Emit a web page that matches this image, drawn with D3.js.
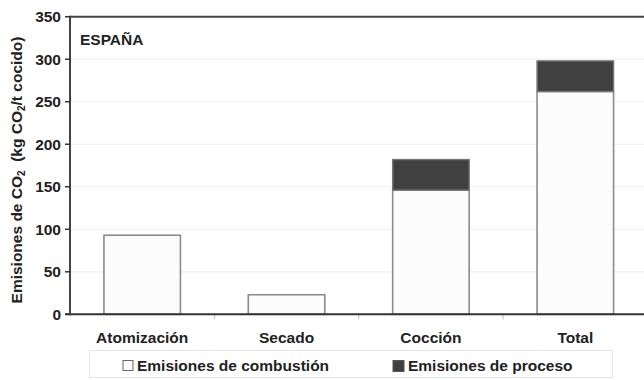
<!DOCTYPE html>
<html><head><meta charset="utf-8">
<script src="https://cdn.jsdelivr.net/npm/d3@7"></script>
<style>body{margin:0;background:#fff}svg{display:block;font-family:"Liberation Sans",Arial,sans-serif}</style>
</head><body><svg id="c" width="644" height="380"></svg>
<script>
const categories = ["Atomización", "Secado", "Cocción", "Total"];
const combustion = [93, 23, 146, 262];
const process = [0, 0, 36, 36];
const yTicks = [0, 50, 100, 150, 200, 250, 300, 350];
const seriesNames = ["Emisiones de combustión", "Emisiones de proceso"];
const regionLabel = "ESPAÑA";

const FS = 15.5;
const svg = d3.select("#c");
const L = 70, R = 647.5, T = 16.7, B = 314.3;
const x = d3.scaleBand().domain(categories).range([L, R]).paddingInner(0.47).paddingOuter(0.235);
const y = d3.scaleLinear().domain([0, 350]).range([B, T]);

// gridlines
svg.append("g").selectAll("line").data(yTicks.filter(d => d > 0 && d < 350)).join("line")
  .attr("x1", L).attr("x2", 644).attr("y1", d => y(d)).attr("y2", d => y(d))
  .attr("stroke", "#efefef").attr("stroke-width", 1.2);
// top border
svg.append("line").attr("x1", L).attr("x2", 644).attr("y1", y(350)).attr("y2", y(350))
  .attr("stroke", "#444").attr("stroke-width", 2);

// bars
const data = categories.map((c, i) => ({c, a: combustion[i], b: process[i]}));
const g = svg.append("g");
g.selectAll("rect.comb").data(data).join("rect").attr("class", "comb")
  .attr("x", d => x(d.c)).attr("width", x.bandwidth())
  .attr("y", d => y(d.a)).attr("height", d => y(0) - y(d.a))
  .attr("fill", "#fcfcfc").attr("stroke", "#8c8c8c").attr("stroke-width", 1.6);
g.selectAll("rect.proc").data(data.filter(d => d.b > 0)).join("rect").attr("class", "proc")
  .attr("x", d => x(d.c)).attr("width", x.bandwidth())
  .attr("y", d => y(d.a + d.b)).attr("height", d => y(d.a) - y(d.a + d.b))
  .attr("fill", "#404040").attr("stroke", "#777").attr("stroke-width", 1.4);

// x axis line and ticks at band boundaries
const step = x.step();
svg.append("g").selectAll("line").data(categories.slice(1)).join("line")
  .attr("x1", d => x(d) - x.paddingInner() * step / 2).attr("x2", d => x(d) - x.paddingInner() * step / 2)
  .attr("y1", B).attr("y2", B + 5).attr("stroke", "#bbb").attr("stroke-width", 1);
svg.append("line").attr("x1", L - 5).attr("x2", 644).attr("y1", B).attr("y2", B)
  .attr("stroke", "#333").attr("stroke-width", 2);
// y axis
svg.append("line").attr("x1", L).attr("x2", L).attr("y1", T - 1).attr("y2", B + 1)
  .attr("stroke", "#444").attr("stroke-width", 2);
const yt = svg.append("g");
yt.selectAll("line").data(yTicks).join("line")
  .attr("x1", L - 5).attr("x2", L).attr("y1", d => y(d)).attr("y2", d => y(d))
  .attr("stroke", "#333").attr("stroke-width", 1.5);
yt.selectAll("text").data(yTicks).join("text")
  .attr("x", 61).attr("y", d => y(d)).attr("dy", "0.35em").attr("text-anchor", "end")
  .attr("font-size", FS).attr("font-weight", "bold").attr("fill", "#222").text(d => d);

// category labels
svg.append("g").selectAll("text").data(categories).join("text")
  .attr("x", d => x(d) + x.bandwidth() / 2).attr("y", 343).attr("text-anchor", "middle")
  .attr("font-size", FS).attr("font-weight", "bold").attr("fill", "#222").text(d => d);

// region label
svg.append("text").attr("x", 80).attr("y", 45).attr("font-size", FS).attr("font-weight", "bold")
  .attr("fill", "#222").text(regionLabel);

// y title
const yt2 = svg.append("text").attr("transform", "translate(22,170) rotate(-90)").attr("text-anchor", "middle")
  .attr("font-size", FS).attr("font-weight", "bold").attr("fill", "#222");
yt2.append("tspan").text("Emisiones de CO");
yt2.append("tspan").attr("font-size", 10).attr("dy", 3).text("2");
yt2.append("tspan").attr("dy", -3).attr("xml:space", "preserve").text("\u00a0\u00a0(kg CO");
yt2.append("tspan").attr("font-size", 10).attr("dy", 3).text("2");
yt2.append("tspan").attr("dy", -3).text("/t cocido)");

// legend
svg.append("rect").attr("x", 89.5).attr("y", 350.5).attr("width", 523).attr("height", 27)
  .attr("fill", "#fff").attr("stroke", "#e6e6e6").attr("stroke-width", 1);
const legX = [123, 393];
const legW = [10, 11];
const legFill = ["#fcfcfc", "#404040"];
const legStroke = ["#666", "#555"];
seriesNames.forEach((n, i) => {
  svg.append("rect").attr("x", legX[i]).attr("y", 360.5).attr("width", legW[i]).attr("height", legW[i])
    .attr("fill", legFill[i]).attr("stroke", legStroke[i]).attr("stroke-width", 1);
  svg.append("text").attr("x", legX[i] + legW[i] + 4).attr("y", 370.5).attr("font-size", FS).attr("font-weight", "bold")
    .attr("fill", "#222").text(n);
});
</script></body></html>
